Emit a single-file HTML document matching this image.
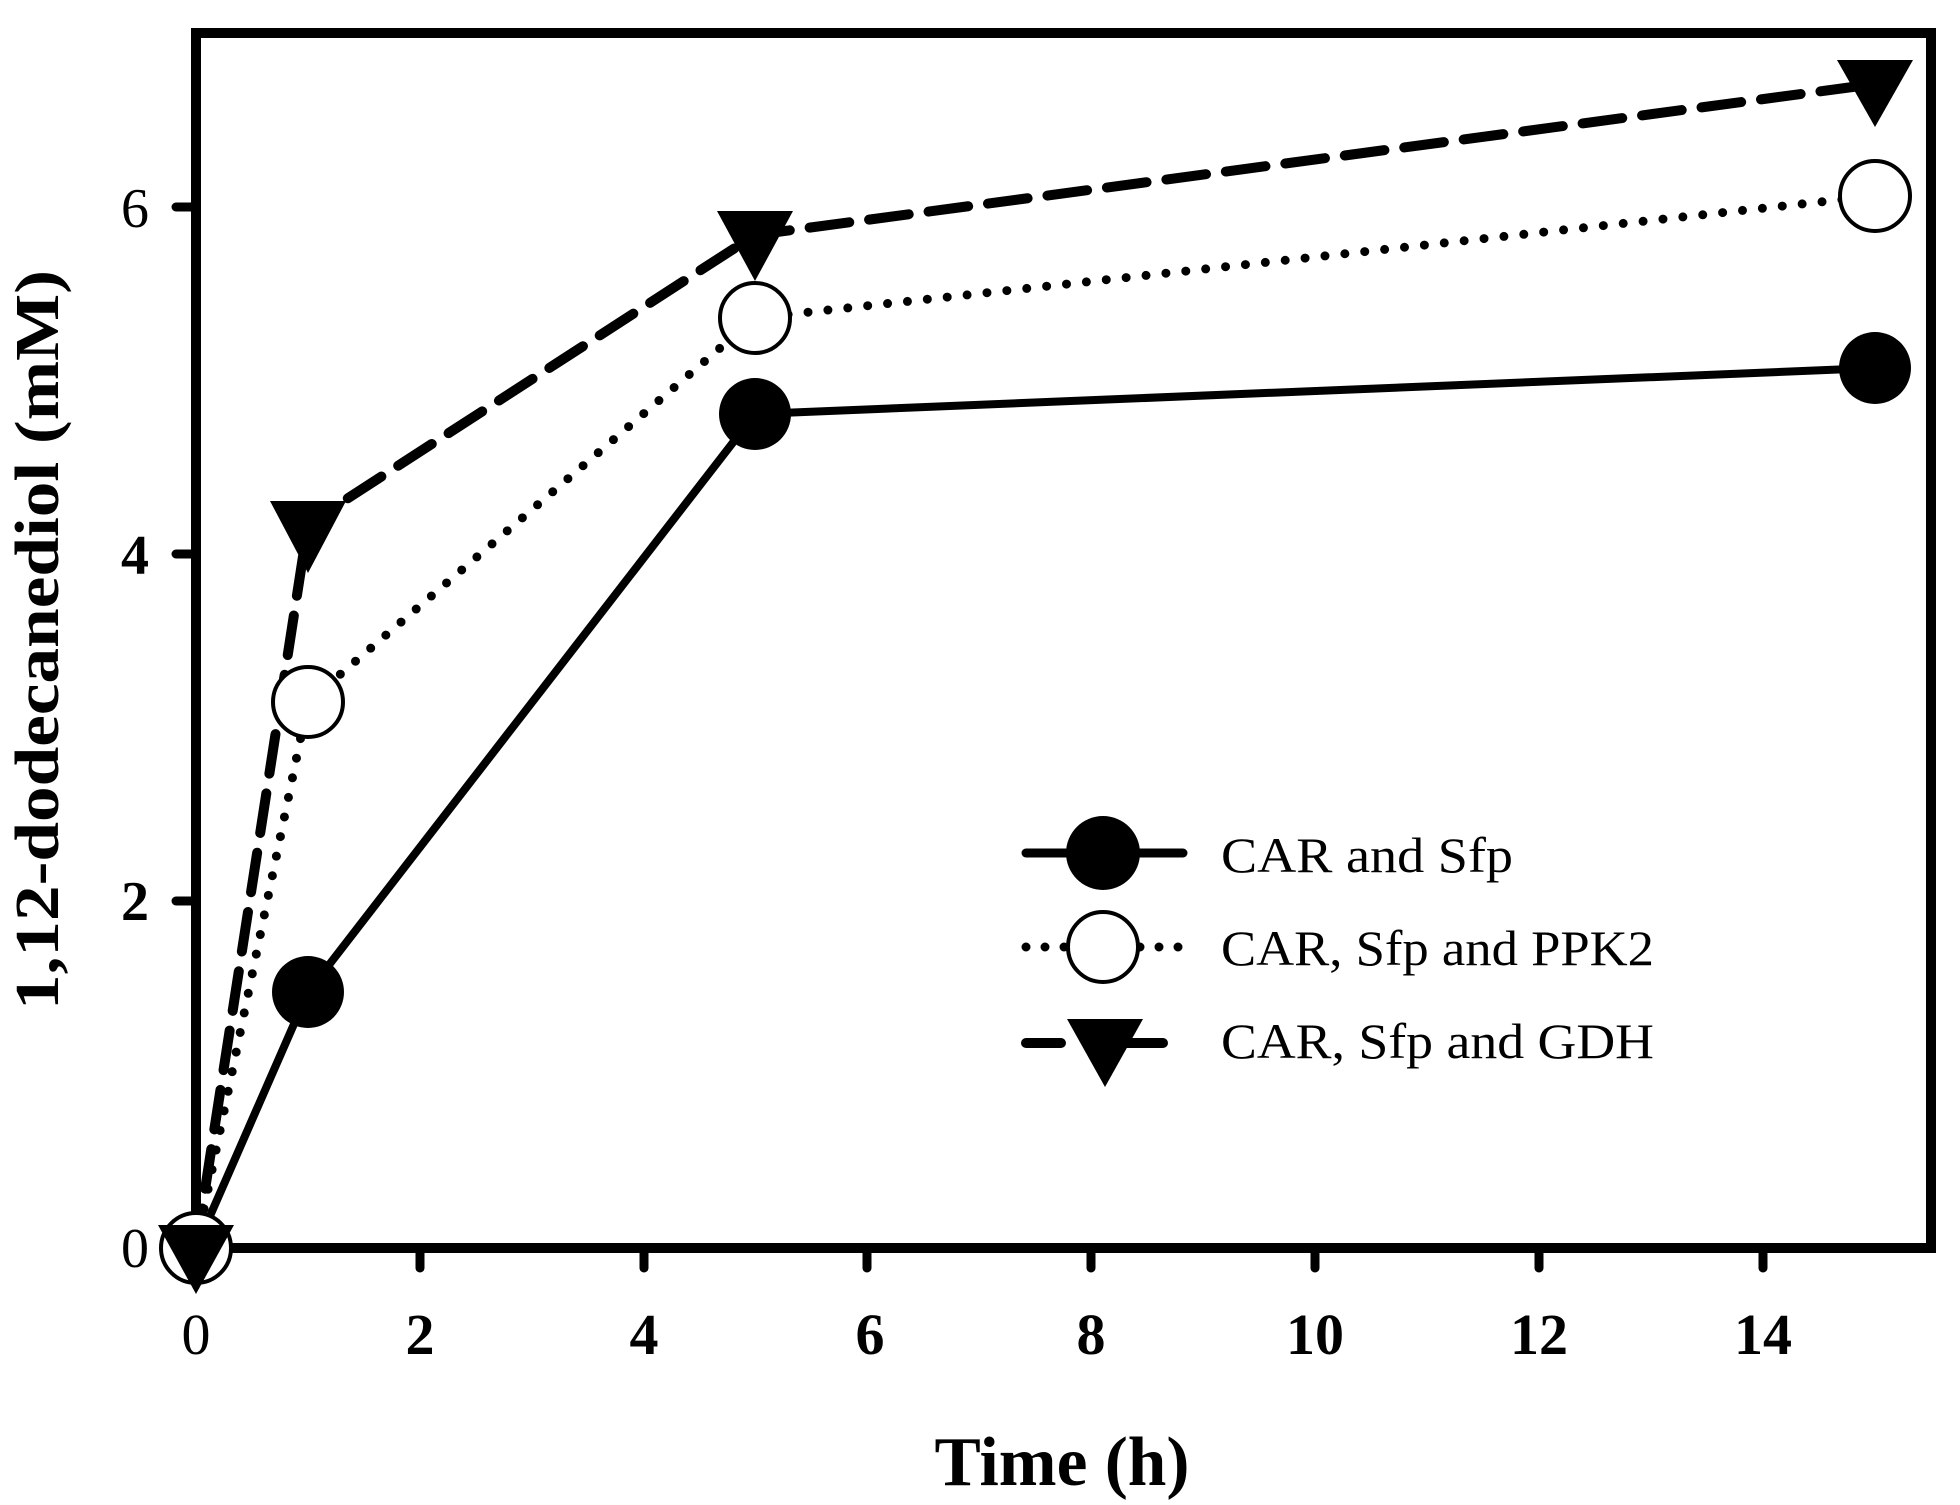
<!DOCTYPE html>
<html><head><meta charset="utf-8"><style>html,body{margin:0;padding:0;background:#fff}svg{display:block}</style></head>
<body>
<svg width="1960" height="1505" viewBox="0 0 1960 1505" xmlns="http://www.w3.org/2000/svg" font-family="'Liberation Serif', serif">
<rect width="1960" height="1505" fill="#fff"/>
<!-- frame -->
<rect x="196" y="33" width="1735" height="1215" fill="none" stroke="#000" stroke-width="10"/>
<!-- y ticks -->
<g stroke="#000" stroke-width="9" stroke-linecap="round">
<line x1="176" y1="1248" x2="196" y2="1248"/>
<line x1="176" y1="901" x2="196" y2="901"/>
<line x1="176" y1="554" x2="196" y2="554"/>
<line x1="176" y1="207" x2="196" y2="207"/>
<!-- x ticks -->
<line x1="420" y1="1248" x2="420" y2="1268"/>
<line x1="644" y1="1248" x2="644" y2="1268"/>
<line x1="867" y1="1248" x2="867" y2="1268"/>
<line x1="1091" y1="1248" x2="1091" y2="1268"/>
<line x1="1315" y1="1248" x2="1315" y2="1268"/>
<line x1="1539" y1="1248" x2="1539" y2="1268"/>
<line x1="1763" y1="1248" x2="1763" y2="1268"/>
</g>
<g font-size="56" text-anchor="middle" fill="#000">
<text x="135" y="1267">0</text>
<text x="135" y="920" font-weight="bold">2</text>
<text x="135" y="574" font-weight="bold">4</text>
<text x="135" y="227">6</text>
</g>
<g font-size="58" font-weight="bold" text-anchor="middle" fill="#000">
<text x="196" y="1354" font-weight="normal">0</text>
<text x="420" y="1354">2</text>
<text x="644" y="1354">4</text>
<text x="870" y="1354">6</text>
<text x="1091" y="1354">8</text>
<text x="1315" y="1354">10</text>
<text x="1539" y="1354">12</text>
<text x="1763" y="1354">14</text>
</g>
<text x="1062" y="1485" font-size="70" font-weight="bold" text-anchor="middle" textLength="255" lengthAdjust="spacingAndGlyphs">Time (h)</text>
<text transform="translate(58,640) rotate(-90)" font-size="62" font-weight="bold" text-anchor="middle" textLength="740" lengthAdjust="spacingAndGlyphs">1,12-dodecanediol (mM)</text>

<!-- series: dashed GDH -->
<polyline points="196,1248 308,524 755,235 1875,84" fill="none" stroke="#000" stroke-width="10" stroke-dasharray="40,20" stroke-linecap="round"/>
<!-- dotted PPK2 -->
<polyline points="196,1248 308,702 755,318 1875,196" fill="none" stroke="#000" stroke-width="9" stroke-dasharray="0,20" stroke-linecap="round"/>
<!-- solid -->
<polyline points="196,1248 308,992 755,414 1875,368" fill="none" stroke="#000" stroke-width="8"/>
<!-- markers -->
<g fill="#000">
<circle cx="308" cy="992" r="36"/><circle cx="755" cy="414" r="36"/><circle cx="1875" cy="368" r="36"/>
</g>
<g fill="#fff" stroke="#000" stroke-width="4">
<circle cx="196" cy="1248" r="35"/><circle cx="308" cy="702" r="35"/><circle cx="755" cy="318" r="35"/><circle cx="1875" cy="196" r="35"/>
</g>
<g fill="#000">
<polygon points="158,1225 234,1225 196,1294"/>
<polygon points="270,501 346,501 308,573"/>
<polygon points="717,211 793,211 755,281"/>
<polygon points="1837,60 1913,60 1875,127"/>
</g>

<!-- legend -->
<line x1="1026" y1="853" x2="1183" y2="853" stroke="#000" stroke-width="9" stroke-linecap="round"/>
<circle cx="1103" cy="853" r="37" fill="#000"/>
<line x1="1026" y1="947" x2="1183" y2="947" stroke="#000" stroke-width="9" stroke-dasharray="0,19" stroke-linecap="round"/>
<circle cx="1103" cy="947" r="35" fill="#fff" stroke="#000" stroke-width="4"/>
<line x1="1026" y1="1043" x2="1163" y2="1043" stroke="#000" stroke-width="10" stroke-dasharray="35,50" stroke-linecap="round"/>
<line x1="1130" y1="1043" x2="1163" y2="1043" stroke="#000" stroke-width="10" stroke-linecap="round"/>
<polygon points="1067,1019 1143,1019 1105,1087" fill="#000"/>
<g font-size="50" fill="#000">
<text x="1221" y="872" textLength="292" lengthAdjust="spacingAndGlyphs">CAR and Sfp</text>
<text x="1221" y="965" textLength="433" lengthAdjust="spacingAndGlyphs">CAR, Sfp and PPK2</text>
<text x="1221" y="1058" textLength="433" lengthAdjust="spacingAndGlyphs">CAR, Sfp and GDH</text>
</g>
</svg>
</body></html>
